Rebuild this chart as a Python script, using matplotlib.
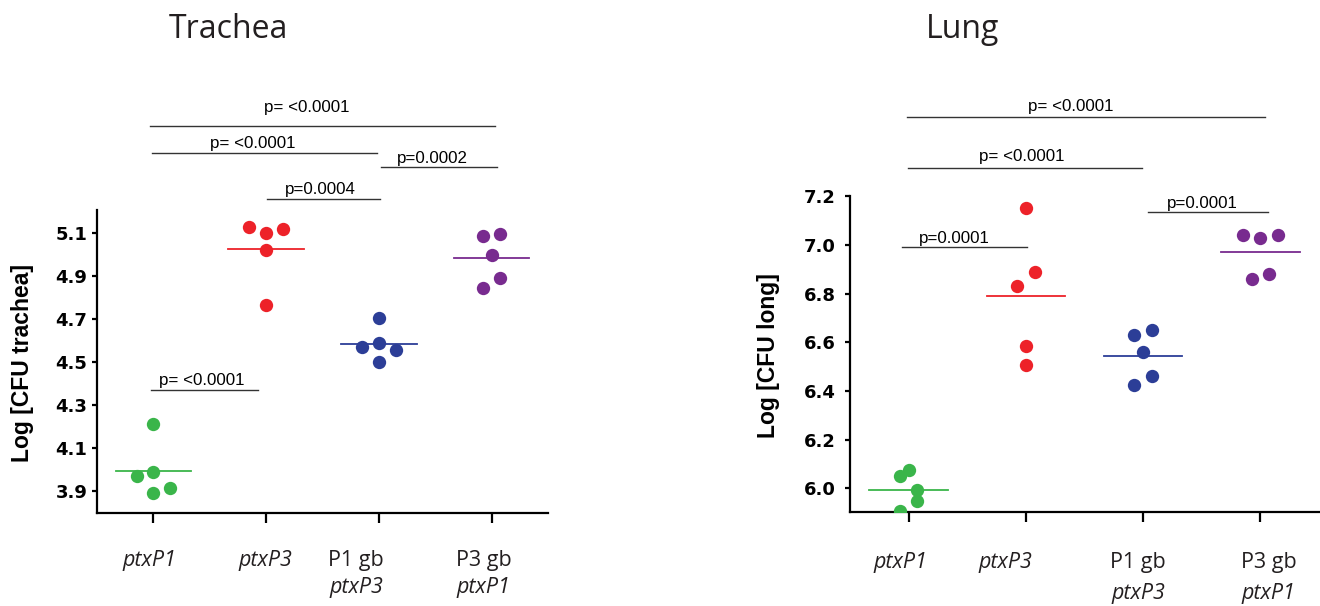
"""Trachea / Lung CFU scatter (ptxP1 vs ptxP3 and gene-background swaps)."""
import numpy as np
import matplotlib
matplotlib.use("Agg")
import matplotlib.pyplot as plt

# ── data ──
groups_top = ["ptxP1", "ptxP3", "P1 gb", "P3 gb"]
groups_bottom = ["", "", "ptxP3", "ptxP1"]
top_italic = [True, True, False, False]
colors = ["#3ab54a", "#ed2229", "#2c3e97", "#782b8f"]

trachea_vals = [[4.21, 3.97, 3.99, 3.89, 3.915],
                [5.13, 5.10, 5.12, 5.02, 4.765],
                [4.705, 4.57, 4.59, 4.555, 4.50],
                [5.085, 5.095, 5.00, 4.89, 4.845]]
lung_vals = [[6.05, 6.075, 5.995, 5.95, 5.905],
             [7.15, 6.89, 6.83, 6.585, 6.505],
             [6.63, 6.65, 6.56, 6.46, 6.425],
             [7.04, 7.03, 7.04, 6.88, 6.86]]

trachea_yticks = [3.9, 4.1, 4.3, 4.5, 4.7, 4.9, 5.1]
lung_yticks = [6.0, 6.2, 6.4, 6.6, 6.8, 7.0, 7.2]

# swarm slots (half-column units) so dots don't overlap, as in the original
trachea_slots = [[0, -2, 0, 0, 2], [-2, 0, 2, 0, 0], [0, -2, 0, 2, 0], [-1, 1, 0, 1, -1]]
lung_slots = [[-1, 0, 1, 1, -1], [0, 1, -1, 0, 0], [-1, 1, 0, 1, -1], [-2, 0, 2, 1, -1]]

# significance bars: (x0, x1, y_bar, x_text, y_text, label)
trachea_bars = [(-0.02, 0.93, 4.370, 0.425, 4.393, "p= <0.0001"),
                (1.006, 2.01, 5.257, 1.478, 5.281, "p=0.0004"),
                (2.015, 3.05, 5.408, 2.478, 5.426, "p=0.0002"),
                (-0.01, 1.985, 5.473, 0.885, 5.495, "p= <0.0001"),
                (-0.027, 3.03, 5.598, 1.363, 5.663, "p= <0.0001")]
lung_bars = [(-0.053, 1.012, 6.993, 0.389, 7.008, "p=0.0001"),
             (2.04, 3.066, 7.136, 2.502, 7.152, "p=0.0001"),
             (-0.006, 1.989, 7.316, 0.962, 7.343, "p= <0.0001"),
             (-0.017, 3.037, 7.527, 1.386, 7.548, "p= <0.0001")]

W, H = 1320, 606
fig = plt.figure(figsize=(W / 100, H / 100), dpi=100)


def panel(rect, vals, slots, yticks, ylim, ylabel, bars, title, title_xy,
          lab_dx, lab_dy, ylab_x, ytick_pad):
    ax = fig.add_axes(rect)
    half = 0.074
    for i, (v, s, c) in enumerate(zip(vals, slots, colors)):
        x = i + np.array(s) * half
        ax.scatter(x, v, s=92, color=c, zorder=3, linewidths=0)
        m = np.mean(v)
        ax.plot([i - 0.335, i + 0.335], [m, m], color=c, lw=1.3, zorder=2)

    ax.set_xlim(-0.5, 3.5)
    ax.set_ylim(*ylim)
    ax.set_yticks(yticks)
    ax.set_yticklabels([f"{t:.1f}" for t in yticks], fontweight="bold",
                       fontsize=13, family="DejaVu Sans")
    ax.set_xticks(range(len(groups_top)))
    ax.set_xticklabels([])
    for sp in ("top", "right"):
        ax.spines[sp].set_visible(False)
    for sp in ("left", "bottom"):
        ax.spines[sp].set_linewidth(1.6)
    ax.tick_params(axis="x", length=7, width=1.6, direction="out")
    ax.tick_params(axis="y", length=3.6, width=1.6, direction="out", pad=ytick_pad)
    ax.set_ylabel(ylabel, fontsize=16.5, fontweight="bold", family="Liberation Sans")
    ax.yaxis.set_label_coords(ylab_x, 0.495)

    # two-line category labels (second line italic)
    for i, (t, b, it) in enumerate(zip(groups_top, groups_bottom, top_italic)):
        ax.annotate(t, xy=(i, 0), xycoords=("data", "axes fraction"),
                    xytext=(lab_dx[i], -lab_dy[0]), textcoords="offset points",
                    ha="center", va="top", fontsize=15.5, family="Open Sans",
                    style="italic" if it else "normal", color="#231f20")
        if b:
            ax.annotate(b, xy=(i, 0), xycoords=("data", "axes fraction"),
                        xytext=(lab_dx[i], -lab_dy[1]), textcoords="offset points",
                        ha="center", va="top", fontsize=15.5, family="Open Sans",
                        style="italic", color="#231f20")

    for x0, x1, yb, xt, yt, lab in bars:
        ax.plot([x0, x1], [yb, yb], color="#333333", lw=1.0, clip_on=False)
        ax.text(xt, yt, lab, ha="center", va="baseline", fontsize=12.2,
                family="Liberation Sans", clip_on=False)

    fig.text(title_xy[0] / W, 1 - title_xy[1] / H, title, ha="center",
             va="baseline", fontsize=23, family="Open Sans", color="#231f20")
    return ax


panel([97 / W, 1 - 513 / H, 451 / W, 303 / H], trachea_vals, trachea_slots,
      trachea_yticks, (3.798, 5.207), "Log [CFU trachea]", trachea_bars,
      "Trachea", (228, 37.5), [-2.9, -0.7, -16.5, -5.8], (26.5, 46), -0.14, 3.2)
panel([850 / W, 1 - 511.7 / H, 469 / W, 316 / H], lung_vals, lung_slots,
      lung_yticks, (5.904, 7.202), "Log [CFU long]", lung_bars,
      "Lung", (963, 38), [-5.8, -15, -3.6, 5.8], (29, 51), -0.15, 6.5)

fig.savefig("out.png", dpi=100)
